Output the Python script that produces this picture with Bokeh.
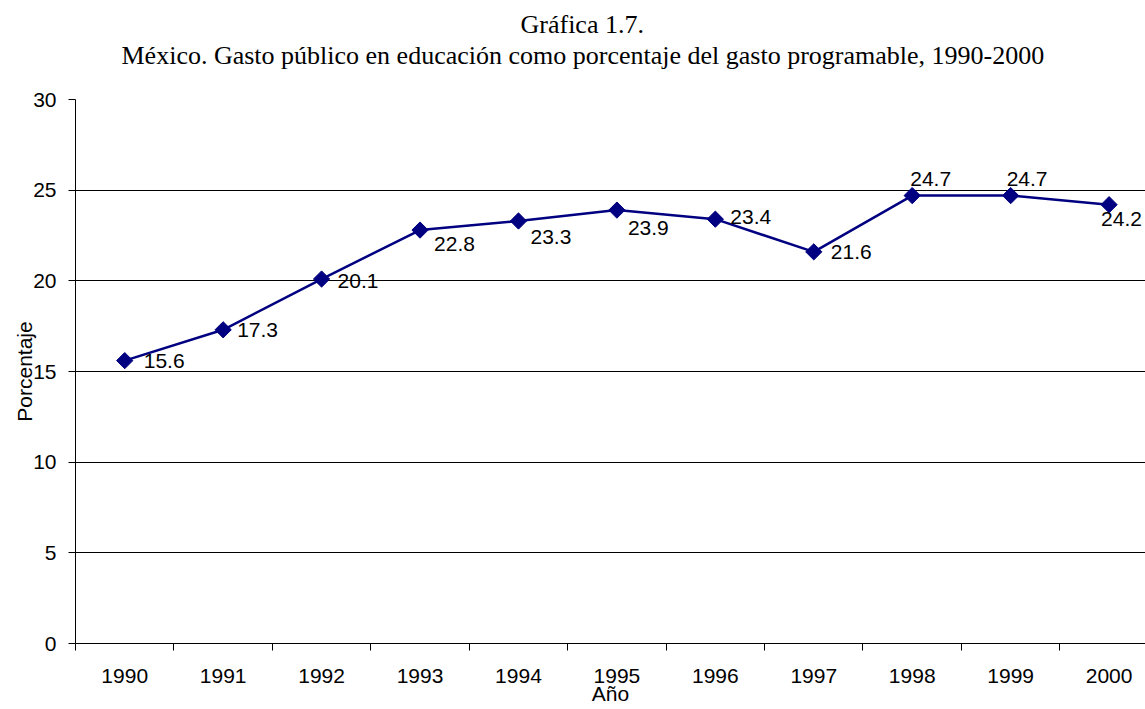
import math
from bokeh.plotting import figure
from bokeh.models import Range1d, FixedTicker, ColumnDataSource, Title, LinearAxis
from bokeh.core.properties import value
from bokeh.embed import file_html
from bokeh.resources import INLINE

# ---- data ----
years = [1990, 1991, 1992, 1993, 1994, 1995, 1996, 1997, 1998, 1999, 2000]
pct = [15.6, 17.3, 20.1, 22.8, 23.3, 23.9, 23.4, 21.6, 24.7, 24.7, 24.2]
labels = ["15.6", "17.3", "20.1", "22.8", "23.3", "23.9", "23.4", "21.6", "24.7", "24.7", "24.2"]
y_ticks = [0, 5, 10, 15, 20, 25, 30]

# ---- label placement (layout only) ----
label_dx = [19, 14, 16, 14, 12, 11, 15, 17, -2, -4, -8]
label_dy = [0, 0, 2, 14, 16, 18, -2, 0, -17, -17, 14]

title_line1 = "Gráfica 1.7."
title_line2 = "México. Gasto público en educación como porcentaje del  gasto programable, 1990-2000"

NAVY = "#000080"
SANS = "Liberation Sans"
SERIF = "Liberation Serif"

p = figure(width=1145, height=709, output_backend="svg", toolbar_location=None,
           x_range=Range1d(1989.5, 2000.37), y_range=Range1d(0, 30),
           min_border_left=75, min_border_right=0, min_border_top=99, min_border_bottom=66,
           title=None)
p.outline_line_color = None
p.background_fill_color = "white"
p.border_fill_color = "white"

# x axis (the figure's own bottom axis)
xa = p.below[0]
xa.ticker = FixedTicker(ticks=years, minor_ticks=[y + 0.5 for y in [1989] + years])
xa.major_tick_out = 0
xa.major_tick_in = 0
xa.minor_tick_out = 7
xa.minor_tick_in = 0
xa.minor_tick_line_color = "black"
xa.axis_line_color = "black"
xa.major_label_standoff = 18
xa.major_label_text_font = SANS
xa.major_label_text_font_size = "21px"
xa.major_label_text_color = "black"
xa.axis_label = "Año"
xa.axis_label_text_font = SANS
xa.axis_label_text_font_size = "21px"
xa.axis_label_text_font_style = "normal"
xa.axis_label_text_color = "black"
xa.axis_label_standoff = -4

# y axis
ya = p.left[0]
ya.ticker = FixedTicker(ticks=y_ticks, minor_ticks=[])
ya.major_tick_out = 7
ya.major_tick_in = 0
ya.major_tick_line_color = "black"
ya.axis_line_color = "black"
ya.major_label_standoff = 12
ya.major_label_text_font = SANS
ya.major_label_text_font_size = "21px"
ya.major_label_text_color = "black"
ya.axis_label = "Porcentaje"
ya.axis_label_text_font = SANS
ya.axis_label_text_font_size = "21px"
ya.axis_label_text_font_style = "normal"
ya.axis_label_text_color = "black"
ya.axis_label_standoff = -6

# spacer between the frame and the titles: an invisible axis with one blank tick
spacer = LinearAxis(ticker=FixedTicker(ticks=[1995], minor_ticks=[]), major_tick_out=30,
                    major_tick_in=0, minor_tick_out=0, minor_tick_in=0,
                    major_tick_line_color=None, minor_tick_line_color=None,
                    axis_line_color=None, major_label_overrides={1995: ""},
                    major_label_standoff=0, major_label_text_font_size="1px")
p.add_layout(spacer, "above")

# titles (second line nearest the frame, added first)
t2 = Title(text=title_line2, align="left", offset=46, standoff=0,
           text_font=SERIF, text_font_size="26px", text_font_style="normal",
           text_color="black")
t1 = Title(text=title_line1, align="left", offset=445, standoff=0,
           text_font=SERIF, text_font_size="26px", text_font_style="normal",
           text_color="black")
p.add_layout(t2, "above")
p.add_layout(t1, "above")

p.xgrid.visible = False
p.ygrid.ticker = FixedTicker(ticks=y_ticks)
p.ygrid.grid_line_color = "black"
p.ygrid.grid_line_width = 1

src = ColumnDataSource(dict(x=years, y=pct, t=labels, dx=label_dx, dy=label_dy))

p.line("x", "y", source=src, line_color=NAVY, line_width=2.5)
p.scatter("x", "y", source=src, marker="square", size=11.5, angle=math.pi / 4,
          fill_color=NAVY, line_color=NAVY)
p.text("x", "y", text="t", source=src, x_offset="dx", y_offset="dy",
       text_font=value(SANS), text_font_size="21px", text_color="black",
       text_align="left", text_baseline="middle")

open("out.html", "w").write(file_html(p, INLINE))
